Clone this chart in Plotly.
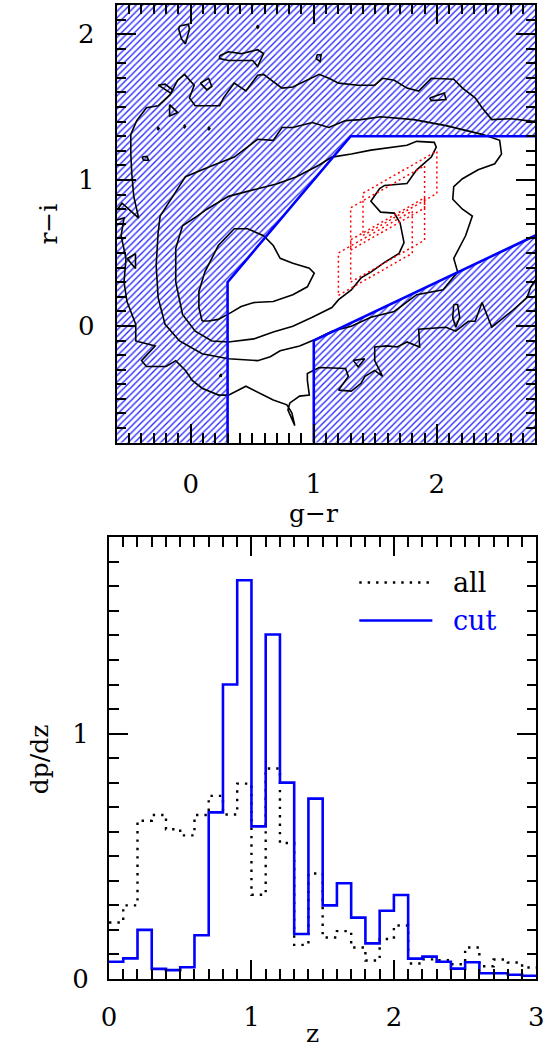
import plotly.graph_objects as go

W, H = 556, 1061
SERIF = "DejaVu Serif"

# ---------------- colour-colour diagram (g-r vs r-i) ----------------
gr_range = [-0.6, 2.8]
ri_range = [-0.8, 2.2]

# colour-cut boundaries (selected region lies between them)
cut_upper_gr = [0.3, 0.3, 1.3, 2.8]
cut_upper_ri = [-0.8, 0.3, 1.3, 1.3]
cut_lower_gr = [1.0, 1.0, 2.8]
cut_lower_ri = [-0.8, -0.1, 0.62]

# density contours of the full sample
contour_d_gr = [0.093, 0.067, 0.067, 0.116, 0.225, 0.354, 0.463, 0.592, 0.671, 0.727, 0.830, 0.964, 1.004,
                0.948, 0.830, 0.671, 0.513, 0.410, 0.330, 0.225, 0.146, 0.093]
contour_d_ri = [0.034, 0.126, 0.236, 0.371, 0.551, 0.666, 0.666, 0.618, 0.551, 0.463, 0.430, 0.396, 0.362,
                0.268, 0.214, 0.167, 0.160, 0.133, 0.093, 0.045, 0.034, 0.034]

contour_c_gr = [0.053, 0.132, 0.307, 0.544, 0.703, 0.861, 1.044, 1.147, 1.305, 1.464, 1.575, 1.757, 1.836,
                1.979, 1.995, 1.955, 1.836, 1.757, 1.575, 1.535, 1.464, 1.543, 1.654, 1.701, 1.733, 1.693,
                1.575, 1.464, 1.384, 1.305, 1.202, 1.147, 0.988, 0.830, 0.671, 0.513, 0.307, 0.172, 0.037,
                -0.066, -0.121, -0.121, -0.066, 0.053]
contour_c_ri = [0.753, 0.800, 0.888, 0.942, 0.975, 1.023, 1.103, 1.157, 1.178, 1.205, 1.218, 1.238, 1.265,
                1.258, 1.225, 1.157, 1.070, 0.976, 0.963, 0.942, 0.855, 0.780, 0.773, 0.706, 0.571, 0.497,
                0.436, 0.369, 0.329, 0.247, 0.180, 0.126, 0.059, -0.002, -0.042, -0.089, -0.110, -0.103,
                -0.036, 0.079, 0.301, 0.531, 0.686, 0.753]

contour_b_gr = [-0.145, -0.042, 0.148, 0.354, 0.544, 0.671, 0.742, 0.830, 0.988, 1.123, 1.258, 1.384, 1.543,
                1.813, 2.074, 2.367, 2.510, 2.525, 2.470, 2.335, 2.208, 2.137, 2.129, 2.208, 2.288, 2.233,
                2.137, 2.169, 2.050, 1.836, 1.654, 1.464, 1.305, 1.147, 1.020, 0.885, 0.727, 0.647, 0.544,
                0.307, 0.093, -0.090, -0.208, -0.264, -0.280, -0.264, -0.248, -0.145]
contour_b_ri = [0.888, 1.023, 1.090, 1.157, 1.279, 1.272, 1.360, 1.360, 1.394, 1.360, 1.407, 1.414, 1.434,
                1.414, 1.373, 1.313, 1.272, 1.178, 1.111, 1.070, 1.009, 0.955, 0.868, 0.800, 0.753, 0.618,
                0.463, 0.369, 0.248, 0.214, 0.099, 0.059, -0.002, -0.036, -0.089, -0.137, -0.170, -0.211,
                -0.238, -0.225, -0.191, -0.103, 0.011, 0.194, 0.416, 0.639, 0.753, 0.888]

# outermost level, upper branch (right edge -> left edge)
contour_a1_gr = [2.8, 2.605, 2.446, 2.367, 2.311, 2.208, 2.137, 1.955, 1.852, 1.757, 1.654, 1.559, 1.495,
                 1.361, 1.202, 1.123, 1.044, 0.941, 0.830, 0.742, 0.671, 0.592, 0.544, 0.449, 0.354, 0.267,
                 0.235, 0.037, -0.010, 0.029, -0.050, -0.105, -0.169, -0.264, -0.359, -0.438, -0.486,
                 -0.486, -0.478, -0.462, -0.422, -0.557, -0.6]
contour_a1_ri = [1.400, 1.420, 1.414, 1.495, 1.563, 1.630, 1.691, 1.697, 1.610, 1.630, 1.684, 1.697, 1.650,
                 1.650, 1.664, 1.697, 1.724, 1.684, 1.637, 1.630, 1.677, 1.724, 1.718, 1.610, 1.664, 1.563,
                 1.509, 1.509, 1.563, 1.650, 1.724, 1.684, 1.583, 1.509, 1.495, 1.407, 1.313, 1.178, 1.043,
                 0.888, 0.739, 0.841, 0.793]
# outermost level, lower branch (left edge -> right edge)
contour_a2_gr = [-0.6, -0.541, -0.565, -0.525, -0.541, -0.517, -0.446, -0.446, -0.288, -0.399, -0.359,
                 -0.200, -0.121, -0.042, 0.013, 0.093, 0.227, 0.307, 0.449, 0.568, 0.671, 0.782, 0.822,
                 0.846, 0.790, 0.806, 0.885, 0.964, 0.948, 0.948, 1.044, 1.258, 1.281, 1.202, 1.305, 1.384,
                 1.416, 1.495, 1.559, 1.495, 1.495, 1.598, 1.678, 1.757, 1.860, 1.852, 2.074, 2.153, 2.256,
                 2.311, 2.367, 2.446, 2.605, 2.732, 2.763, 2.8]
contour_a2_ri = [0.726, 0.740, 0.618, 0.463, 0.301, 0.167, 0.011, -0.103, -0.137, -0.238, -0.278, -0.278,
                 -0.238, -0.305, -0.373, -0.427, -0.474, -0.474, -0.413, -0.461, -0.508, -0.541, -0.595,
                 -0.683, -0.575, -0.528, -0.481, -0.474, -0.373, -0.326, -0.285, -0.292, -0.346, -0.440,
                 -0.447, -0.393, -0.346, -0.305, -0.346, -0.238, -0.144, -0.137, -0.144, -0.110, -0.144,
                 -0.022, -0.009, -0.036, 0.032, 0.032, 0.160, -0.009, 0.099, 0.194, 0.268, 0.315]

# small isolated islands of the outermost level
islands = [
    ([-0.089, -0.018, -0.010, -0.042, -0.074, -0.097, -0.089], [2.055, 2.068, 2.034, 1.933, 1.967, 2.034, 2.055]),
    ([0.535, 0.545, 0.553, 0.545, 0.535], [2.050, 2.058, 2.050, 2.040, 2.050]),
    ([0.235, 0.307, 0.410, 0.544, 0.592, 0.544, 0.505, 0.410, 0.307, 0.235, 0.235],
     [1.852, 1.879, 1.866, 1.893, 1.866, 1.778, 1.819, 1.819, 1.819, 1.832, 1.852]),
    ([1.028, 1.060, 1.052, 1.020, 1.028], [1.859, 1.859, 1.812, 1.832, 1.859]),
    ([-0.264, -0.208, -0.145, -0.161, -0.224, -0.264], [1.650, 1.657, 1.617, 1.596, 1.630, 1.650]),
    ([-0.171, -0.105, -0.171, -0.171], [1.517, 1.462, 1.438, 1.517]),
    ([0.079, 0.146, 0.172, 0.132, 0.079], [1.664, 1.697, 1.641, 1.618, 1.664]),
    ([-0.272, -0.264, -0.256, -0.264, -0.272], [1.353, 1.361, 1.353, 1.345, 1.353]),
    ([-0.058, -0.050, -0.042, -0.050, -0.058], [1.367, 1.375, 1.367, 1.359, 1.367]),
    ([0.140, 0.148, 0.156, 0.148, 0.140], [1.353, 1.361, 1.353, 1.345, 1.353]),
    ([-0.395, -0.355, -0.342, -0.382, -0.395], [1.158, 1.162, 1.135, 1.135, 1.158]),
    ([1.941, 2.060, 2.074, 1.955, 1.941], [1.562, 1.596, 1.551, 1.544, 1.562]),
    ([-0.515, -0.448, -0.448, -0.515], [0.461, 0.495, 0.394, 0.461]),
    ([0.238, 0.248, 0.248, 0.238, 0.238], [-0.334, -0.334, -0.344, -0.344, -0.334]),
    ([1.321, 1.414, 1.361, 1.321], [-0.236, -0.225, -0.281, -0.236]),
    ([2.137, 2.169, 2.185, 2.153, 2.129, 2.137], [0.147, 0.147, 0.059, -0.009, 0.059, 0.147]),
]

# model colour boxes: (g-r min, g-r max, r-i at lower-left corner, slope, height)
model_boxes = [
    (1.2, 1.8, 0.21, 0.48, 0.29),
    (1.3, 1.9, 0.30, 0.48, 0.29),
    (1.3, 1.9, 0.52, 0.48, 0.29),
    (1.4, 2.0, 0.62, 0.48, 0.29),
]

# ---------------- redshift distribution ----------------
z_edges = [0.0, 0.1, 0.2, 0.3, 0.4, 0.5, 0.6, 0.7, 0.8, 0.9, 1.0, 1.1, 1.2, 1.3, 1.4, 1.5,
           1.6, 1.7, 1.8, 1.9, 2.0, 2.1, 2.2, 2.3, 2.4, 2.5, 2.6, 2.7, 2.8, 2.9, 3.0]
dpdz_all = [0.23, 0.30, 0.645, 0.668, 0.61, 0.585, 0.668, 0.746, 0.67, 0.796,
            0.343, 0.858, 0.554, 0.139, 0.43, 0.169, 0.195, 0.128, 0.075, 0.163,
            0.218, 0.063, 0.08, 0.076, 0.06, 0.128, 0.052, 0.079, 0.067, 0.047]
dpdz_cut = [0.07, 0.084, 0.20, 0.041, 0.036, 0.048, 0.178, 0.679, 1.20, 1.625,
            0.622, 1.404, 0.80, 0.183, 0.735, 0.30, 0.39, 0.25, 0.145, 0.278,
            0.342, 0.083, 0.091, 0.07, 0.042, 0.068, 0.023, 0.023, 0.017, 0.013]

legend_labels = ["all", "cut"]

BLUE = "#0000ff"
HATCH = "#2a2aff"

fig = go.Figure()

# hatched (rejected) regions
upper_poly_x = [gr_range[0]] + cut_upper_gr + [gr_range[1], gr_range[0], gr_range[0]]
upper_poly_y = [ri_range[0]] + cut_upper_ri + [ri_range[1], ri_range[1], ri_range[0]]
lower_poly_x = cut_lower_gr + [gr_range[1], cut_lower_gr[0]]
lower_poly_y = cut_lower_ri + [ri_range[0], cut_lower_ri[0]]
for px, py in [(upper_poly_x, upper_poly_y), (lower_poly_x, lower_poly_y)]:
    fig.add_trace(go.Scatter(
        x=px, y=py, mode="none", fill="toself", fillcolor="rgba(0,0,0,0)",
        fillpattern=dict(shape="/", fgcolor=HATCH, bgcolor="rgba(255,255,255,0)",
                         size=4.6, solidity=0.3, fillmode="replace"),
        xaxis="x", yaxis="y", hoverinfo="skip", showlegend=False))

# contours
cx, cy = [], []
for xs, ys in [(contour_a1_gr, contour_a1_ri), (contour_a2_gr, contour_a2_ri),
               (contour_b_gr, contour_b_ri), (contour_c_gr, contour_c_ri),
               (contour_d_gr, contour_d_ri)] + islands:
    cx += list(xs) + [None]
    cy += list(ys) + [None]
fig.add_trace(go.Scatter(x=cx, y=cy, mode="lines", line=dict(color="black", width=1.6),
                         xaxis="x", yaxis="y", hoverinfo="skip", showlegend=False,
                         connectgaps=False))

# model boxes
bx, by = [], []
for g0, g1, r0, s, h in model_boxes:
    r1 = r0 + s * (g1 - g0)
    bx += [g0, g1, g1, g0, g0, None]
    by += [r0, r1, r1 + h, r0 + h, r0, None]
fig.add_trace(go.Scatter(x=bx, y=by, mode="lines",
                         line=dict(color="red", width=1.5, dash="2px,3px"),
                         xaxis="x", yaxis="y", hoverinfo="skip", showlegend=False))

# cut boundaries
for xs, ys in [(cut_upper_gr, cut_upper_ri), (cut_lower_gr, cut_lower_ri)]:
    fig.add_trace(go.Scatter(x=xs, y=ys, mode="lines", line=dict(color=BLUE, width=2.6),
                             xaxis="x", yaxis="y", hoverinfo="skip", showlegend=False))

# histograms
fig.add_trace(go.Scatter(x=z_edges, y=dpdz_all + [dpdz_all[-1]], mode="lines", line_shape="hv",
                         line=dict(color="black", width=2.4, dash="2.4px,6px"),
                         xaxis="x2", yaxis="y2", hoverinfo="skip", showlegend=False))
fig.add_trace(go.Scatter(x=z_edges, y=dpdz_cut + [dpdz_cut[-1]], mode="lines", line_shape="hv",
                         line=dict(color=BLUE, width=2.6),
                         xaxis="x2", yaxis="y2", hoverinfo="skip", showlegend=False))

# legend keys
legend_styles = [dict(color="black", width=2.4, dash="2.4px,6px"), dict(color=BLUE, width=2.6)]
legend_text_colors = ["black", BLUE]
legend_rows = [1.616, 1.461]
for lab, sty, col, yrow in zip(legend_labels, legend_styles, legend_text_colors, legend_rows):
    fig.add_trace(go.Scatter(x=[1.757, 2.27], y=[yrow, yrow], mode="lines", line=sty,
                             xaxis="x2", yaxis="y2", hoverinfo="skip", showlegend=False))
    fig.add_annotation(x=2.40, y=yrow, xref="x2", yref="y2", text=lab, showarrow=False,
                       xanchor="left", yanchor="middle",
                       font=dict(family=SERIF, size=27, color=col))

axis_common = dict(
    showline=True, linecolor="black", linewidth=2, mirror="allticks",
    ticks="inside", ticklen=19, tickwidth=1.5, tickcolor="black",
    showgrid=False, zeroline=False, dtick=1, tick0=0,
    minor=dict(ticks="inside", ticklen=9.5, tickwidth=1.5, tickcolor="black",
               dtick=0.1, showgrid=False),
    tickfont=dict(family=SERIF, size=26, color="black"),
)

fig.update_layout(
    width=W, height=H, margin=dict(l=0, r=0, t=0, b=0),
    paper_bgcolor="white", plot_bgcolor="white", showlegend=False,
    xaxis=dict(axis_common, domain=[112 / W, 543 / W], range=gr_range, anchor="y",
               ticklabelstandoff=17),
    yaxis=dict(axis_common, domain=[1 - 449 / H, 1 - 5 / H], range=ri_range, anchor="x",
               ticklabelstandoff=15),
    xaxis2=dict(axis_common, domain=[104 / W, 544 / W], range=[0, 3], anchor="y2",
                ticklabelstandoff=14),
    yaxis2=dict(axis_common, domain=[1 - 993 / H, 1 - 545 / H], range=[0, 1.8], anchor="x2",
                ticklabelstandoff=13),
)

titles = [
    ("g\u2212r", 315 / W, 1 - 521 / H, 0),
    ("r\u2212i", 42 / W, 1 - 227 / H, -90),
    ("dp/dz", 32 / W, 1 - 770 / H, -90),
    ("z", 314 / W, 1 - 1048 / H, 0),
]
for txt, xp, yp, ang in titles:
    fig.add_annotation(x=xp, y=yp, xref="paper", yref="paper", text=txt, showarrow=False,
                       textangle=ang, xanchor="center", yanchor="middle",
                       font=dict(family=SERIF, size=25, color="black"))

fig.write_html("out.html")
